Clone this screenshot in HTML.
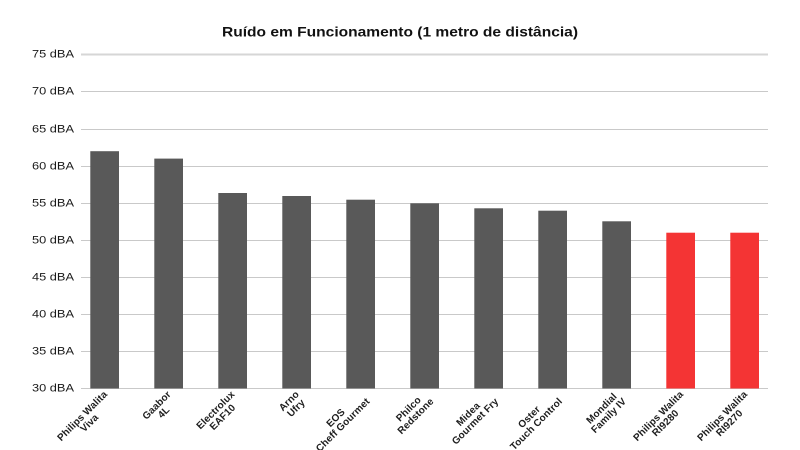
<!DOCTYPE html>
<html>
<head>
<meta charset="utf-8">
<style>
  html, body { margin:0; padding:0; background:#ffffff; }
  #wrap { position:relative; width:800px; height:450px; overflow:hidden; background:#fff; font-family:"Liberation Sans", sans-serif; }
  svg { position:absolute; left:0; top:0; }
  .xl { position:absolute; top:387px; height:20px; line-height:10px; font-size:10px; font-weight:bold; color:#1e1e1e;
        text-align:center; white-space:nowrap; transform-origin:100% 50%; transform:rotate(-45deg); letter-spacing:0.1px; }
</style>
</head>
<body>
<div id="wrap">
<svg width="800" height="450" viewBox="0 0 800 450" xmlns="http://www.w3.org/2000/svg">
  <text x="400" y="36.7" text-anchor="middle" font-family="Liberation Sans, sans-serif" font-weight="bold" font-size="14" fill="#111" textLength="356" lengthAdjust="spacingAndGlyphs">Ruído em Funcionamento (1 metro de distância)</text>

  <g stroke="#c9c9c9" stroke-width="1">
    <line x1="81" x2="768" y1="54.5" y2="54.5" stroke="#d6d6d6" stroke-width="2"/>
    <line x1="81" x2="768" y1="91.5" y2="91.5"/>
    <line x1="81" x2="768" y1="129.5" y2="129.5"/>
    <line x1="81" x2="768" y1="166.5" y2="166.5"/>
    <line x1="81" x2="768" y1="203.5" y2="203.5"/>
    <line x1="81" x2="768" y1="240.5" y2="240.5"/>
    <line x1="81" x2="768" y1="277.5" y2="277.5"/>
    <line x1="81" x2="768" y1="314.5" y2="314.5"/>
    <line x1="81" x2="768" y1="351.5" y2="351.5"/>
    <line x1="81" x2="768" y1="388.5" y2="388.5"/>
  </g>

  <g font-family="Liberation Sans, sans-serif" font-size="11" fill="#1a1a1a" text-anchor="end">
    <text x="74" y="57.5" textLength="42" lengthAdjust="spacingAndGlyphs">75 dBA</text>
    <text x="74" y="94.5" textLength="42" lengthAdjust="spacingAndGlyphs">70 dBA</text>
    <text x="74" y="132.5" textLength="42" lengthAdjust="spacingAndGlyphs">65 dBA</text>
    <text x="74" y="169.5" textLength="42" lengthAdjust="spacingAndGlyphs">60 dBA</text>
    <text x="74" y="206.5" textLength="42" lengthAdjust="spacingAndGlyphs">55 dBA</text>
    <text x="74" y="243.5" textLength="42" lengthAdjust="spacingAndGlyphs">50 dBA</text>
    <text x="74" y="280.5" textLength="42" lengthAdjust="spacingAndGlyphs">45 dBA</text>
    <text x="74" y="317.5" textLength="42" lengthAdjust="spacingAndGlyphs">40 dBA</text>
    <text x="74" y="354.5" textLength="42" lengthAdjust="spacingAndGlyphs">35 dBA</text>
    <text x="74" y="391.5" textLength="42" lengthAdjust="spacingAndGlyphs">30 dBA</text>
  </g>

  <g fill="#595959">
    <rect x="90.3"  y="151.2" width="28.7" height="237.3"/>
    <rect x="154.3" y="158.6" width="28.7" height="229.9"/>
    <rect x="218.3" y="193.0" width="28.7" height="195.5"/>
    <rect x="282.3" y="196.0" width="28.7" height="192.5"/>
    <rect x="346.3" y="199.7" width="28.7" height="188.8"/>
    <rect x="410.3" y="203.3" width="28.7" height="185.2"/>
    <rect x="474.3" y="208.3" width="28.7" height="180.2"/>
    <rect x="538.3" y="210.7" width="28.7" height="177.8"/>
    <rect x="602.3" y="221.3" width="28.7" height="167.2"/>
  </g>
  <g fill="#f43434">
    <rect x="666.3" y="232.7" width="28.7" height="155.8"/>
    <rect x="730.3" y="232.7" width="28.7" height="155.8"/>
  </g>
</svg>

<div class="xl" style="right:690.35px">Philips Walita<br>Viva</div>
<div class="xl" style="right:626.35px">Gaabor<br>4L</div>
<div class="xl" style="right:562.35px">Electrolux<br>EAF10</div>
<div class="xl" style="right:498.35px">Arno<br>Ufry</div>
<div class="xl" style="right:434.35px">EOS<br>Cheff Gourmet</div>
<div class="xl" style="right:370.35px">Philco<br>Redstone</div>
<div class="xl" style="right:306.35px">Midea<br>Gourmet Fry</div>
<div class="xl" style="right:242.35px">Oster<br>Touch Control</div>
<div class="xl" style="right:178.35px">Mondial<br>Family IV</div>
<div class="xl" style="right:114.35px">Philips Walita<br>RI9280</div>
<div class="xl" style="right:50.35px">Philips Walita<br>RI9270</div>
</div>
</body>
</html>
